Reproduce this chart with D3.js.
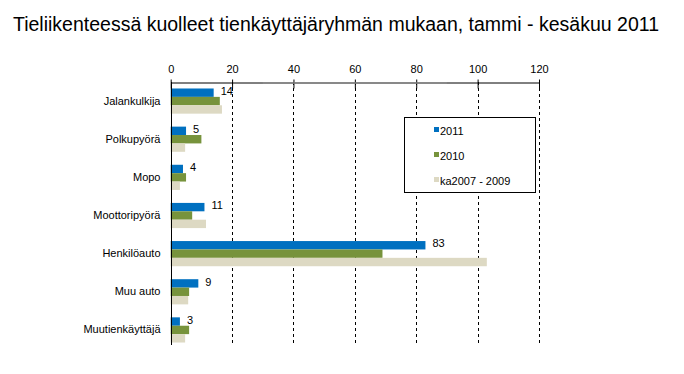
<!DOCTYPE html>
<html>
<head>
<meta charset="utf-8">
<script src="https://cdn.jsdelivr.net/npm/d3@7"></script>
<style>
  body { margin: 0; background: #fff; }
  svg { display: block; font-family: "Liberation Sans", Arial, sans-serif; }
</style>
</head>
<body>
<div id="chart"></div>
<script>
// data
const categories = ["Jalankulkija", "Polkupyörä", "Mopo", "Moottoripyörä", "Henkilöauto", "Muu auto", "Muutienkäyttäjä"];
const seriesNames = ["2011", "2010", "ka2007 - 2009"];
const values2011 = [14, 5, 4, 11, 83, 9, 3];
const values2010 = [16, 10, 5, 7, 69, 6, 6];
const valuesAvg = [16.7, 4.7, 3, 11.5, 103, 5.7, 4.7];
const xTicks = [0, 20, 40, 60, 80, 100, 120];

const colors = ["#0070C0", "#77933C", "#DDD9C3"];

const width = 684, height = 374;

const svg = d3.select("#chart")
  .append("svg")
    .attr("width", width)
    .attr("height", height);

svg.append("text")
  .attr("x", 13)
  .attr("y", 31)
  .attr("font-size", "19.5px")
  .attr("fill", "#000")
  .text("Tieliikenteessä kuolleet tienkäyttäjäryhmän mukaan, tammi - kesäkuu 2011");

const x = d3.scaleLinear()
  .domain([0, 120])
  .range([170.7, 539]);

const y = d3.scaleBand()
  .domain(categories)
  .range([82, 349])
  .paddingInner(0.34)
  .paddingOuter(0.17);

const ySub = d3.scaleBand()
  .domain(seriesNames)
  .range([0, y.bandwidth()]);

const rows = categories.map((c, i) => ({
  category: c,
  values: [values2011[i], values2010[i], valuesAvg[i]]
}));

const axisTop = 82;
const axisBottom = 345;

// dashed gridlines
svg.append("g")
  .selectAll("line")
  .data(xTicks.filter(d => d > 0))
  .join("line")
    .attr("x1", d => Math.round(x(d)) + 0.5)
    .attr("x2", d => Math.round(x(d)) + 0.5)
    .attr("y1", axisTop)
    .attr("y2", axisBottom)
    .attr("stroke", "#000")
    .attr("stroke-dasharray", "3,3");

// bars
const groups = svg.append("g")
  .selectAll("g")
  .data(rows)
  .join("g")
    .attr("transform", d => `translate(0,${y(d.category)})`);

groups.selectAll("rect")
  .data(d => d.values.map((v, j) => ({series: seriesNames[j], value: v, j})))
  .join("rect")
    .attr("x", x(0))
    .attr("y", d => ySub(d.series))
    .attr("width", d => x(d.value) - x(0))
    .attr("height", ySub.bandwidth())
    .attr("fill", d => colors[d.j]);

// value labels for 2011
groups.append("text")
  .attr("x", d => x(d.values[0]) + 7)
  .attr("y", ySub("2011") + ySub.bandwidth() / 2)
  .attr("dy", "0.2em")
  .attr("font-size", "11px")
  .text(d => d.values[0]);

// top axis
const xAxis = d3.axisTop(x)
  .tickValues(xTicks)
  .tickSize(3)
  .tickPadding(7)
  .tickSizeOuter(0);

const gx = svg.append("g")
  .attr("transform", `translate(0,${axisTop + 0.5})`)
  .call(xAxis)
  .attr("font-family", null)
  .attr("font-size", "11px");
gx.select(".domain").attr("stroke", "#000");
gx.selectAll(".tick line").attr("y2", 6).attr("y1", -3).attr("stroke", "#000");
gx.selectAll(".tick text").attr("fill", "#000");

// grey plot-border overlay on the axis line
svg.append("line")
  .attr("x1", x(30))
  .attr("x2", x(90))
  .attr("y1", axisTop + 1)
  .attr("y2", axisTop + 1)
  .attr("stroke", "#8c8c8c")
  .attr("stroke-width", 1.5);

// left axis
const yAxis = d3.axisLeft(y)
  .tickSize(0)
  .tickPadding(11);

const gy = svg.append("g")
  .attr("transform", `translate(${Math.round(x(0)) + 0.5},0)`)
  .call(yAxis)
  .attr("font-family", null)
  .attr("font-size", "11px");
gy.select(".domain").attr("d", `M0,${axisTop}V${axisBottom}`).attr("stroke", "#000");
gy.selectAll(".tick text").attr("fill", "#000");

// legend
const legend = svg.append("g")
  .attr("transform", "translate(404,117)");

legend.append("rect")
  .attr("x", 0.5)
  .attr("y", 0.5)
  .attr("width", 131)
  .attr("height", 75)
  .attr("fill", "#fff")
  .attr("stroke", "#000");

const items = legend.selectAll("g")
  .data(seriesNames)
  .join("g")
    .attr("transform", (d, i) => `translate(30,${14 + i * 25})`);

items.append("rect")
  .attr("x", 0)
  .attr("y", -4)
  .attr("width", 5)
  .attr("height", 5)
  .attr("fill", (d, i) => colors[i]);

items.append("text")
  .attr("x", 6)
  .attr("y", 0)
  .attr("dy", "0.35em")
  .attr("font-size", "11px")
  .text(d => d);
</script>
</body>
</html>
